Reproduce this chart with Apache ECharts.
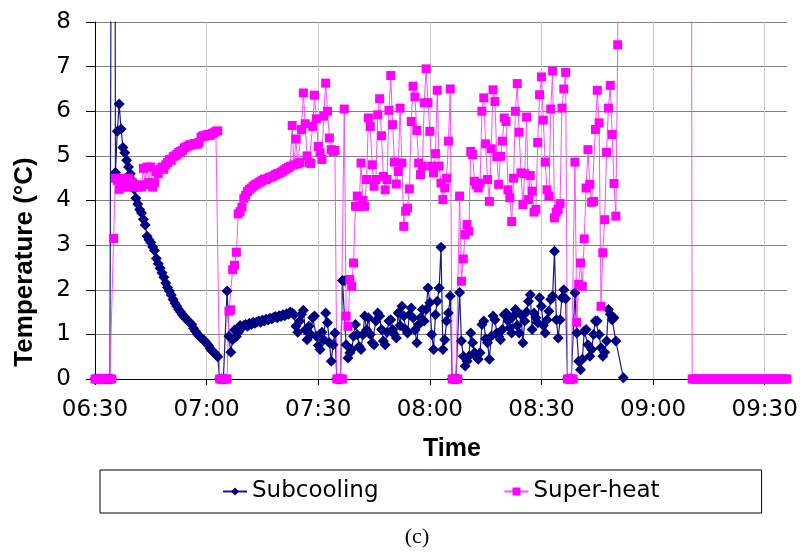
<!DOCTYPE html>
<html><head><meta charset="utf-8">
<script src="https://cdn.jsdelivr.net/npm/echarts@6/dist/echarts.min.js"></script>
<style>html,body{margin:0;padding:0;background:#fff}#c{width:804px;height:555px}</style>
</head><body><div id="c"></div>
<script>
// logger start time and sampling step
const startTime = '06:30';
const sampleStepSeconds = 30;
const xAxisStart = '06:30';
const xAxisEnd = '09:36';
const xTickLabels = ['06:30','07:00','07:30','08:00','08:30','09:00','09:30'];
const yTickLabels = [0,1,2,3,4,5,6,7,8];
const seriesNames = ['Subcooling','Super-heat'];
const xTitle = 'Time';
const yTitle = 'Temperature (°C)';
const caption = '(c)';

// Subcooling (°C), one value per sample
const subcooling = [
0,0,0,0,0,0,0,0,0,0,
30,4.63,5.55,6.16,5.6,5.19,5.07,4.9,4.75,4.6,
4.45,4.25,4.05,3.92,3.8,3.72,3.58,3.45,3.2,3.12,
3.06,2.96,2.88,2.7,2.58,2.48,2.38,2.28,2.15,2.05,
1.97,1.88,1.78,1.7,1.63,1.56,1.5,1.44,1.39,1.35,
1.3,1.26,1.22,1.14,1.07,1.01,0.96,0.92,0.89,0.85,
0.8,0.75,0.68,0.63,0.59,0.55,0.5,0,0,0,
0,1.97,0.96,0.6,0.88,1.1,0.95,1.05,1.2,1.15,
1.2,1.22,1.18,1.25,1.22,1.27,1.25,1.28,1.3,1.27,
1.32,1.3,1.34,1.32,1.36,1.35,1.38,1.4,1.37,1.42,
1.4,1.44,1.42,1.46,1.45,1.5,1.48,1.44,1.18,1.05,
1.3,1.45,1.54,1.1,0.88,1.18,1.0,1.37,1.41,0.96,
0.75,0.66,1.05,0.88,1.48,1.26,0.81,0.4,0.77,1.03,
0,0,0,2.21,2.2,0.77,0.47,0.59,0.66,0.96,
1.22,0.99,0.73,0.66,0.99,1.41,1.1,1.37,1.0,0.81,
0.77,1.3,1.48,1.41,1.11,0.85,0.77,1.05,1.3,1.33,
1.11,1.0,0.92,1.48,1.2,1.63,1.41,1.11,1.03,1.44,
1.59,1.37,1.1,0.81,1.22,1.37,1.56,1.3,1.56,2.04,
1.71,1.0,0.66,1.44,1.74,2.04,2.95,0.66,0.88,1.3,
1.48,1.86,0,0,0,0,1.94,0.85,0.51,0.29,
0.4,0.51,1.03,0.81,0.59,0.5,0.44,0.59,1.22,1.3,
0.9,0.81,0.44,0.96,1.41,1.33,1.03,0.95,0.88,1.11,
1.44,1.48,1.3,1.15,1.03,1.41,1.56,1.2,1.03,1.44,
0.81,1.3,1.5,1.74,1.89,1.11,1.48,1.37,1.26,1.82,
1.63,1.2,1.03,1.33,1.52,1.78,1.86,2.86,1.33,0.92,
1.33,1.82,2.0,1.8,0,0,0,0,1.93,1.03,
0.4,0.21,0.44,1.07,1.11,0.77,0.51,0.66,1.0,1.3,
1.3,1.0,0.7,0.51,0.6,0.85,1.56,1.45,1.33,1.37,
0.85,null,null,null,0.03
];

// Super-heat (°C), one value per sample (null = no sample)
const superheat = [
0,0,0,0,0,0,0,0,0,0,
3.15,4.5,4.45,4.25,4.5,4.3,4.45,4.3,4.5,4.35,
4.4,4.3,4.35,4.3,4.35,4.3,4.72,4.35,4.75,4.4,
4.75,4.3,4.4,4.65,4.6,4.7,4.75,4.7,4.8,4.85,
4.92,4.9,4.98,5.0,5.03,5.08,5.1,5.12,5.18,5.2,
5.22,5.25,5.24,5.27,5.28,5.26,5.3,5.42,5.45,5.44,
5.47,5.48,5.46,5.5,5.52,5.55,5.56,0,0,0,
0,0,1.52,1.55,2.45,2.55,2.84,3.7,3.75,3.85,
4.05,4.12,4.2,4.25,4.28,4.32,4.35,4.37,4.4,4.42,
4.45,4.48,4.47,4.5,4.52,4.53,4.55,4.58,4.6,4.61,
4.63,4.66,4.69,4.72,4.74,4.77,5.68,4.8,5.38,4.82,
4.85,5.59,6.41,5.72,5.0,4.85,4.83,5.66,6.36,5.83,
5.21,5.07,4.92,5.89,6.63,6.0,5.4,5.14,5.1,5.12,
0,0,0,0,6.05,1.41,1.18,2.23,2.08,2.6,
3.87,4.1,3.87,4.84,4.0,3.87,4.47,5.85,5.66,4.8,
4.32,4.47,5.92,6.28,5.45,4.54,4.24,4.47,6.02,6.8,
5.7,4.86,4.37,4.65,6.07,4.84,3.42,3.76,3.83,4.26,
5.77,6.56,6.32,5.57,4.84,4.58,4.77,6.19,6.95,6.19,
5.55,4.77,4.62,5.05,6.47,4.77,4.39,4.02,4.28,4.5,
5.33,6.5,0,0,0,0,4.1,2.19,2.69,3.24,
3.46,3.31,5.1,5.03,4.43,4.35,4.28,4.39,6.0,6.3,
5.27,4.47,3.98,5.16,6.48,6.22,4.98,4.36,4.99,5.33,
5.85,5.77,4.24,4.06,3.53,4.5,6.0,6.62,5.53,4.62,
3.91,4.6,5.87,4.02,4.56,4.21,3.74,3.8,5.3,6.37,
6.77,5.8,4.86,4.24,4.1,6.05,6.9,3.61,3.74,3.8,
3.93,6.07,6.5,6.87,0,0,0,0,4.86,1.27,
2.12,2.6,2.08,3.14,4.28,5.14,4.36,3.96,3.98,5.59,
6.47,5.74,1.63,2.83,3.57,5.08,6.07,6.58,5.48,4.38,
3.65,7.49,30,null,null,null,null,null,null,null,
null,null,null,null,null,null,null,null,null,null,
null,null,null,null,null,null,null,null,null,null,
null,null,null,null,null,null,null,null,null,null,
30,0,0,0,0,0,0,0,0,0,
0,0,0,0,0,0,0,0,0,0,
0,0,0,0,0,0,0,0,0,0,
0,0,0,0,0,0,0,0,0,0,
0,0,0,0,0,0,0,0,0,0,
0,0,0
];

function toMin(s){ const p = s.split(':').map(Number); return p[0]*60 + p[1]; }
const t0 = toMin(startTime);
function pairs(vals){
  const out = [];
  vals.forEach((v,i) => { if (v !== null && v !== undefined) out.push([t0 + i*sampleStepSeconds/60, v]); });
  return out;
}
const tickMins = xTickLabels.map(toMin);

const chart = echarts.init(document.getElementById('c'), null, {renderer:'canvas'});
chart.setOption({
  animation: false,
  backgroundColor: '#fff',
  grid: { left: 95, right: 17, top: 22, bottom: 176 },
  xAxis: {
    type: 'value', min: toMin(xAxisStart), max: toMin(xAxisEnd), interval: 6,
    axisLine: { show: true, onZero: false, lineStyle: { color: '#000', width: 1 } },
    axisTick: { show: true, customValues: tickMins, length: 6, lineStyle: { color: '#000' } },
    axisLabel: { customValues: tickMins, margin: 20, fontFamily: 'DejaVu Sans', fontSize: 23, color: '#000',
      formatter: v => { const k = tickMins.indexOf(Math.round(v)); return k >= 0 ? xTickLabels[k] : ''; } },
    splitLine: { show: true, lineStyle: { color: '#c8c8c8', width: 1 } }
  },
  yAxis: {
    type: 'value', min: 0, max: 8, interval: 1,
    axisLine: { show: true, lineStyle: { color: '#000', width: 1 } },
    axisTick: { show: true, length: 9, lineStyle: { color: '#000' } },
    axisLabel: { margin: 24, padding: [4, 0, 0, 0], fontFamily: 'DejaVu Sans', fontSize: 23, color: '#000',
      formatter: v => yTickLabels.indexOf(v) >= 0 ? String(v) : '' },
    splitLine: { show: true, lineStyle: { color: '#808080', width: 1 } }
  },
  legend: {
    data: seriesNames, left: 100, top: 470,
    padding: [10, 102, 10, 122], itemGap: 125, itemWidth: 24, itemHeight: 10,
    borderColor: '#000', borderWidth: 1,
    textStyle: { fontFamily: 'DejaVu Sans', fontSize: 23, color: '#000' }
  },
  graphic: [
    { type: 'text', x: 25, y: 262, rotation: Math.PI / 2,
      style: { text: yTitle, align: 'center', verticalAlign: 'middle',
               font: 'bold 26px "Liberation Sans"', fill: '#000' } },
    { type: 'text', x: 452, y: 449,
      style: { text: xTitle, align: 'center', verticalAlign: 'middle',
               font: 'bold 25px "Liberation Sans"', fill: '#000' } },
    { type: 'text', x: 417, y: 537,
      style: { text: caption, align: 'center', verticalAlign: 'middle',
               font: '22px "Liberation Serif"', fill: '#000' } }
  ],
  series: [
    { name: seriesNames[0], type: 'line', data: pairs(subcooling), showAllSymbol: true,
      symbol: 'diamond', symbolSize: 11, color: '#000080',
      itemStyle: { color: '#000080' }, lineStyle: { color: '#1a1a8c', width: 1.2 } },
    { name: seriesNames[1], type: 'line', data: pairs(superheat), showAllSymbol: true,
      symbol: 'rect', symbolSize: 9, color: '#ff00ff',
      itemStyle: { color: '#ff00ff' }, lineStyle: { color: '#ff4dff', width: 1 } }
  ]
});
</script></body></html>
